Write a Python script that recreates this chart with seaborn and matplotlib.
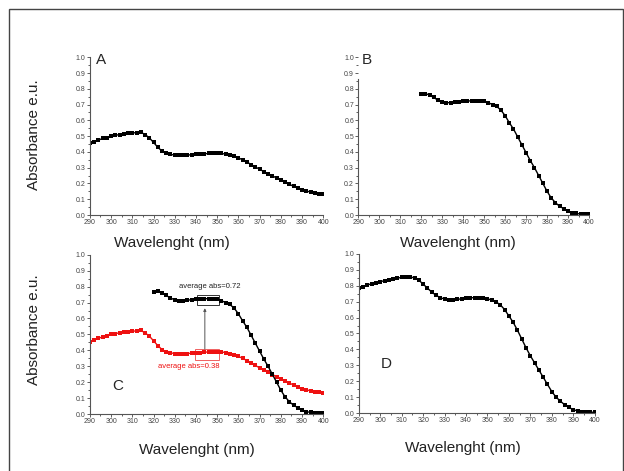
import numpy as np
import pandas as pd
import matplotlib
matplotlib.use("Agg")
import matplotlib.pyplot as plt
import matplotlib.patches as patches
from matplotlib.ticker import MultipleLocator
import seaborn as sns

# wavelengths (nm)
wl_full = list(range(290, 401, 2))
wl_b = list(range(320, 401, 2))

# spectrum A (also the red curve in C)
abs_a = [0.455, 0.465, 0.475, 0.485, 0.490, 0.500, 0.505, 0.510, 0.515, 0.518,
         0.520, 0.522, 0.525, 0.510, 0.490, 0.460, 0.430, 0.405, 0.390, 0.384,
         0.380, 0.378, 0.378, 0.380, 0.382, 0.385, 0.386, 0.388, 0.390, 0.390,
         0.391, 0.390, 0.386, 0.380, 0.372, 0.362, 0.350, 0.336, 0.320, 0.305,
         0.290, 0.275, 0.262, 0.248, 0.235, 0.222, 0.208, 0.195, 0.182, 0.170,
         0.160, 0.152, 0.146, 0.140, 0.136, 0.133]

# spectrum B (also the black curve in C)
abs_b = [0.765, 0.770, 0.760, 0.745, 0.728, 0.718, 0.712, 0.712, 0.715, 0.718,
         0.720, 0.722, 0.724, 0.725, 0.724, 0.720, 0.712, 0.700, 0.688, 0.665,
         0.630, 0.585, 0.545, 0.495, 0.445, 0.395, 0.345, 0.300, 0.250, 0.200,
         0.150, 0.108, 0.078, 0.055, 0.040, 0.025, 0.015, 0.010, 0.006, 0.005,
         0.005]

# spectrum D
abs_d = [0.785, 0.795, 0.805, 0.812, 0.818, 0.825, 0.832, 0.838, 0.843, 0.848,
         0.852, 0.855, 0.856, 0.848, 0.835, 0.810, 0.785, 0.760, 0.740, 0.725,
         0.716, 0.712, 0.712, 0.714, 0.718, 0.722, 0.724, 0.725, 0.725, 0.722,
         0.718, 0.710, 0.698, 0.680, 0.650, 0.610, 0.570, 0.520, 0.465, 0.410,
         0.360, 0.315, 0.270, 0.225, 0.180, 0.135, 0.100, 0.075, 0.052, 0.035,
         0.022, 0.013, 0.008, 0.006, 0.005, 0.005]

avg_black = 0.72
avg_red = 0.38

df_a = pd.DataFrame({"wl": wl_full, "abs": abs_a})
df_b = pd.DataFrame({"wl": wl_b, "abs": abs_b})
df_d = pd.DataFrame({"wl": wl_full, "abs": abs_d})

sns.set_style("white")
plt.rcParams["font.family"] = ["Liberation Sans", "DejaVu Sans"]

fig = plt.figure(figsize=(6.24, 4.71), dpi=100)

# outer frame
fig.patches.append(patches.Rectangle((0.015, -0.02), 0.983, 1.0, transform=fig.transFigure,
                                     fill=False, edgecolor="#444444", linewidth=1.0))

ax_a = fig.add_axes([0.144, 0.5435, 0.374, 0.335])
ax_b = fig.add_axes([0.574, 0.5435, 0.370, 0.335])
ax_c = fig.add_axes([0.144, 0.121, 0.374, 0.338])
ax_d = fig.add_axes([0.575, 0.123, 0.378, 0.338])

line_kw = dict(marker="s", markersize=3.2, markeredgewidth=0, linewidth=1.0)

sns.lineplot(data=df_a, x="wl", y="abs", ax=ax_a, color="black", **line_kw)
sns.lineplot(data=df_b, x="wl", y="abs", ax=ax_b, color="black", **line_kw)
sns.lineplot(data=df_a, x="wl", y="abs", ax=ax_c, color="#ee1111", **line_kw)
sns.lineplot(data=df_b, x="wl", y="abs", ax=ax_c, color="black", **line_kw)
sns.lineplot(data=df_d, x="wl", y="abs", ax=ax_d, color="black", **line_kw)

for ax in [ax_a, ax_b, ax_c, ax_d]:
    ax.set_xlim(290, 400)
    ax.set_ylim(0, 1.0)
    ax.xaxis.set_major_locator(MultipleLocator(10))
    ax.xaxis.set_minor_locator(MultipleLocator(5))
    ax.yaxis.set_major_locator(MultipleLocator(0.1))
    ax.yaxis.set_minor_locator(MultipleLocator(0.05))
    ax.yaxis.set_major_formatter(plt.FuncFormatter(lambda v, p: f"{v:.1f}"))
    ax.tick_params(which="both", direction="out", colors="#444444", labelsize=5,
                   length=2, width=0.6, pad=1, left=True, bottom=True)
    ax.tick_params(which="minor", length=1.2)
    sns.despine(ax=ax)
    for s in ["left", "bottom"]:
        ax.spines[s].set_color("#555555")
        ax.spines[s].set_linewidth(0.8)
    ax.set_xlabel("")
    ax.set_ylabel("")

ax_b.spines["left"].set_bounds(0, 0.86)

# panel letters
ax_a.text(295.5, 0.985, "A", fontsize=11, va="center", ha="center")
ax_b.text(294, 0.985, "B", fontsize=11, va="center", ha="center")
ax_c.text(303, 0.175, "C", fontsize=11, va="center", ha="center")
ax_d.text(303, 0.31, "D", fontsize=11, va="center", ha="center")

# annotations in C
ax_c.add_patch(patches.Rectangle((340.5, 0.682), 10.3, 0.063, fill=False,
                                 edgecolor="#333333", linewidth=0.7))
ax_c.add_patch(patches.Rectangle((339.7, 0.34), 11.1, 0.07, fill=False,
                                 edgecolor="#f06060", linewidth=0.7))
ax_c.annotate("", xy=(344.2, 0.682), xytext=(344.2, 0.39),
              arrowprops=dict(arrowstyle="-|>", color="#555555", lw=0.7,
                              mutation_scale=4))
ax_c.text(346.5, 0.80, f"average abs={avg_black}", fontsize=5.5, color="#222222",
          ha="center", va="center")
ax_c.text(336.5, 0.30, f"average abs={avg_red}", fontsize=5.5, color="#ee1111",
          ha="center", va="center")

# axis titles
fig.text(0.054, 0.713, "Absorbance e.u.", rotation=90, fontsize=11,
         ha="center", va="center", color="#222222")
fig.text(0.054, 0.30, "Absorbance e.u.", rotation=90, fontsize=11,
         ha="center", va="center", color="#222222")
for x, y in [(0.276, 0.484), (0.733, 0.484), (0.315, 0.045), (0.741, 0.048)]:
    fig.text(x, y, "Wavelenght (nm)", fontsize=11, ha="center", va="center",
             color="#222222")

fig.savefig("out.png", dpi=100)
